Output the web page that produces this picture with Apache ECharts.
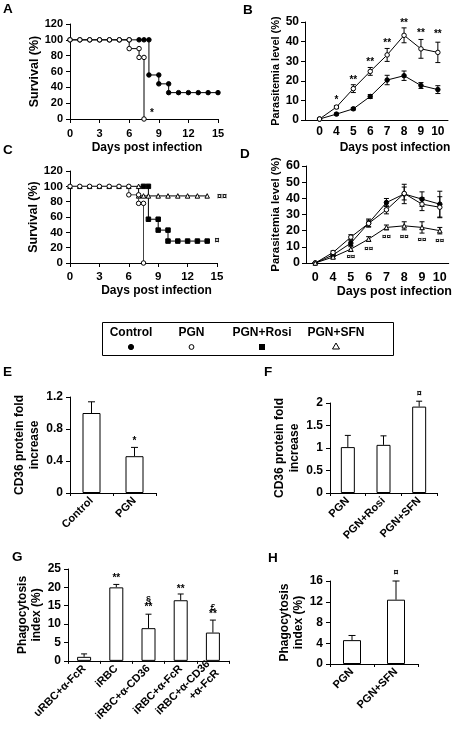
<!DOCTYPE html>
<html><head><meta charset="utf-8">
<script src="https://cdn.jsdelivr.net/npm/echarts@6/dist/echarts.min.js"></script>
<style>html,body{margin:0;padding:0;background:#fff}#c{width:454px;height:729px}</style>
</head><body><div id="c"></div>
<script>
// ===== Panel A : survival (%) vs day =====
const survA_control = [[0,100],[1,100],[2,100],[3,100],[4,100],[5,100],[6,100],[7,100],[7.5,100],[8,100],[8,55.6],[9,55.6],[9,44.4],[10,44.4],[10,33.3],[11,33.3],[12,33.3],[13,33.3],[14,33.3],[15,33.3]];
const survA_pgn = [[0,100],[1,100],[2,100],[3,100],[4,100],[5,100],[6,100],[6,88.9],[7,88.9],[7,77.8],[7.5,77.8],[7.5,0]];
const survA_sigX = [8.3];
const survA_sigY = [7];
const survA_sig = ['*'];

// ===== Panel B : parasitemia (%) =====
const dayLabels = ['0','4','5','6','7','8','9','10'];
const parB_pgn = [0.5,6.6,16,24.8,33.2,43.2,36.3,34.5];
const parB_pgnErr = [0.3,0.8,2,2,3.3,3.8,4.8,5.2];
const parB_ctrl = [0.5,3,5.7,12,20.4,22.6,17.6,15.5];
const parB_ctrlErr = [0.2,0.5,0.6,1,2.4,2.4,1.5,2];
const parB_sig = ['','*','**','**','**','**','**','**'];
const parB_sigY = [0,10.2,20.3,29.3,39,49.5,44.1,43.6];

// ===== Panel C : survival (%) =====
const survC_pgn = [[0,100],[1,100],[2,100],[3,100],[4,100],[5,100],[6,100],[6,88.9],[7,88.9],[7,77.8],[7.5,77.8],[7.5,0]];
const survC_rosi = [[7,100],[7.5,100],[8,100],[8,57.1],[9,57.1],[9,42.9],[10,42.9],[10,28.6],[11,28.6],[12,28.6],[13,28.6],[14,28.6]];
const survC_sfn = [[0,100],[1,100],[2,100],[3,100],[4,100],[5,100],[6,100],[7,100],[7,87.5],[7.5,87.5],[8,87.5],[9,87.5],[10,87.5],[11,87.5],[12,87.5],[13,87.5],[14,87.5]];
const survC_sigX = [15.5,15.0];
const survC_sigY = [86.6,29.4];
const survC_sig = ['¤¤','¤'];

// ===== Panel D : parasitemia (%) =====
const parD_ctrl = [0,5,12.3,24.7,37.4,42.7,39.5,36.4];
const parD_ctrlErr = [0.3,1,1.5,2.5,2.5,6,4.5,8];
const parD_pgn = [0,6.5,16,24.5,32.9,43,36.4,34.5];
const parD_pgnErr = [0.3,1,1.5,2,2.5,4,4,6.5];
const parD_sfn = [0,3.7,8.6,14.8,22,23,22,20];
const parD_sfnErr = [0.2,0.8,1.5,1.5,1.5,2.5,3.5,2];
const parD_sig = ['','','¤¤','¤¤','¤¤','¤¤','¤¤','¤¤'];
const parD_sigY = [0,0,3.7,8.8,16.4,16,14.4,13.8];

// ===== Legend =====
const legendNames = ['Control','PGN','PGN+Rosi','PGN+SFN'];

// ===== Panel E =====
const catE = ['Control','PGN'];
const valE = [1.0,0.46];
const errE = [0.14,0.11];
const sigE = ['','*'];
const sigEY = [0,0.65];

// ===== Panel F =====
const catF = ['PGN','PGN+Rosi','PGN+SFN'];
const valF = [1.02,1.07,1.92];
const errF = [0.26,0.2,0.12];
const sigF = ['','','¤'];
const sigFY = [0,0,2.22];

// ===== Panel G =====
const catG = ['uRBC+α-FcR','iRBC','iRBC+α-CD36','iRBC+α-FcR','iRBC+α-CD36\n+α-FcR'];
const valG = [1.1,20.0,8.9,16.5,7.7];
const errG = [0.8,0.8,3.8,1.7,3.4];
const sigG = ['','**','**','**','**'];
const sigGY = [0,22.5,14.5,19.6,12.7];
const sig2G = ['','','§','','£'];
const sig2GY = [0,0,16.6,0,14.5];

// ===== Panel H =====
const catH = ['PGN','PGN+SFN'];
const valH = [4.6,12.4];
const errH = [0.9,3.6];
const sigH = ['','¤'];
const sigHY = [0,17.6];

// ---------- builders ----------
const F = '"Liberation Sans", Arial, sans-serif';
const grids = [], xAxes = [], yAxes = [], series = [];
const axLine = {show:true, onZero:false, lineStyle:{color:'#000', width:1}};
const axTick = {show:true, length:4, lineStyle:{color:'#000', width:1}};
function lbl(fs, extra){ return Object.assign({color:'#000', fontFamily:F, fontWeight:'bold', fontSize:fs}, extra||{}); }
function nameStyle(fs, extra){ return Object.assign({color:'#000', fontFamily:F, fontWeight:'bold', fontSize:fs}, extra||{}); }

function addGrid(g, xa, ya){
  grids.push(Object.assign({containLabel:false}, g));
  const gi = grids.length-1;
  xAxes.push(Object.assign({gridIndex:gi, axisLine:axLine, splitLine:{show:false}}, xa));
  yAxes.push(Object.assign({gridIndex:gi, type:'value', axisLine:axLine, axisTick:axTick, splitLine:{show:false}}, ya));
  return gi;
}
function lineS(gi, data, sym, filled, extra){
  return Object.assign({type:'line', xAxisIndex:gi, yAxisIndex:gi, data:data, symbol:sym, symbolSize:4.5,
    showAllSymbol:true, animation:false, silent:true,
    lineStyle:{color:'#000', width:1},
    itemStyle:{color: filled?'#000':'#fff', borderColor:'#000', borderWidth:1}}, extra||{});
}
function errS(gi, xs, vals, errs, both, cap){
  return {type:'custom', xAxisIndex:gi, yAxisIndex:gi, clip:false, animation:false, silent:true, z:1,
    data: vals.map((v,i)=>[xs[i], v, errs[i]]),
    renderItem: function(params, api){
      const x=api.value(0), v=api.value(1), e=api.value(2);
      const t=api.coord([x, v+e]), b=api.coord([x, both? v-e : v]);
      const st={stroke:'#000', lineWidth:1};
      const ch=[{type:'line', shape:{x1:t[0],y1:t[1],x2:b[0],y2:b[1]}, style:st},
                {type:'line', shape:{x1:t[0]-cap,y1:t[1],x2:t[0]+cap,y2:t[1]}, style:st}];
      if(both) ch.push({type:'line', shape:{x1:b[0]-cap,y1:b[1],x2:b[0]+cap,y2:b[1]}, style:st});
      return {type:'group', children:ch};
    }};
}
function annS(gi, xs, ys, texts, fs){
  const idx = texts.map((t,i)=>i).filter(i=>texts[i]);
  return {type:'custom', xAxisIndex:gi, yAxisIndex:gi, clip:false, animation:false, silent:true, z:6,
    data: idx.map(i=>[xs[i], ys[i]]),
    renderItem: function(params, api){
      const p=api.coord([api.value(0), api.value(1)]);
      return {type:'text', x:p[0], y:p[1], style:{text:texts[idx[params.dataIndex]], align:'center', verticalAlign:'middle',
        textAlign:'center', textVerticalAlign:'middle', fontFamily:F, fontWeight:'bold', fontSize:fs, fill:'#000'}};
    }};
}
function barS(gi, vals, bw){
  return {type:'bar', xAxisIndex:gi, yAxisIndex:gi, data:vals, barWidth:bw, animation:false, silent:true, z:2,
    itemStyle:{color:'#fff', borderColor:'#000', borderWidth:1}};
}
const idx8 = dayLabels.map((d,i)=>i);

// ---- A ----
let g = addGrid({left:70, top:24, width:148, height:95},
  {type:'value', min:0, max:15, interval:3, axisTick:axTick, axisLabel:lbl(11,{margin:9}),
   name:'Days post infection', nameLocation:'middle', nameGap:23, nameTextStyle:nameStyle(12,{padding:[0,0,0,6]})},
  {min:0, max:120, interval:20, axisLabel:lbl(11,{margin:7}),
   name:'Survival (%)', nameLocation:'middle', nameGap:29, nameTextStyle:nameStyle(12.5)});
series.push(lineS(g, survA_control, 'circle', true, {z:3}));
series.push(lineS(g, survA_pgn, 'circle', false, {z:4}));
series.push(annS(g, survA_sigX, survA_sigY, survA_sig, 10));

// ---- B ----
g = addGrid({left:305, top:22, width:143, height:98},
  {type:'value', min:-0.86, max:7.6, axisTick:{show:false},
   axisLabel:lbl(12,{margin:6, customValues:idx8, formatter:v=>dayLabels[Math.round(v)]||''}),
   name:'Days post infection', nameLocation:'middle', nameGap:22, nameTextStyle:nameStyle(12,{padding:[0,0,0,37]})},
  {min:0, max:50, interval:10, axisLabel:lbl(12,{margin:6}),
   name:'Parasitemia level (%)', nameLocation:'middle', nameGap:22, nameTextStyle:nameStyle(11)});
series.push(errS(g, idx8, parB_pgn, parB_pgnErr, true, 2.5));
series.push(errS(g, idx8, parB_ctrl, parB_ctrlErr, true, 2.5));
series.push(lineS(g, parB_ctrl.map((v,i)=>[i,v]), 'circle', true, {z:3}));
series.push(lineS(g, parB_pgn.map((v,i)=>[i,v]), 'circle', false, {z:4}));
series.push(annS(g, idx8, parB_sigY, parB_sig, 10));

// ---- C ----
g = addGrid({left:70, top:171, width:147, height:92},
  {type:'value', min:0, max:15, interval:3, axisTick:axTick, axisLabel:lbl(11.5,{margin:8}),
   name:'Days post infection', nameLocation:'middle', nameGap:22, nameTextStyle:nameStyle(12,{padding:[0,0,0,26]})},
  {min:0, max:120, interval:20, axisLabel:lbl(11.5,{margin:7}),
   name:'Survival (%)', nameLocation:'middle', nameGap:28, nameTextStyle:nameStyle(12.5)});
series.push(lineS(g, survC_rosi.map((p,i)=> i===0 ? {value:p, symbol:'none'} : p), 'rect', true, {z:3}));
series.push(lineS(g, survC_sfn, 'triangle', false, {z:4}));
series.push(lineS(g, survC_pgn, 'circle', false, {z:5, lineStyle:{color:'#444', width:1}}));
series.push(annS(g, survC_sigX, survC_sigY, survC_sig, 9));

// ---- D ----
g = addGrid({left:306, top:166, width:143, height:97},
  {type:'value', min:-0.52, max:7.5, axisTick:{show:false},
   axisLabel:lbl(12.5,{margin:8, customValues:idx8, formatter:v=>dayLabels[Math.round(v)]||''}),
   name:'Days post infection', nameLocation:'middle', nameGap:22, nameTextStyle:nameStyle(12.5,{padding:[0,0,0,34]})},
  {min:0, max:60, interval:10, axisLabel:lbl(12.5,{margin:6}),
   name:'Parasitemia level (%)', nameLocation:'middle', nameGap:22, nameTextStyle:nameStyle(11.5)});
series.push(errS(g, idx8, parD_ctrl, parD_ctrlErr, true, 2.5));
series.push(errS(g, idx8, parD_pgn, parD_pgnErr, true, 2.5));
series.push(errS(g, idx8, parD_sfn, parD_sfnErr, true, 2.5));
series.push(lineS(g, parD_ctrl.map((v,i)=>[i,v]), 'circle', true, {z:3}));
series.push(lineS(g, parD_pgn.map((v,i)=>[i,v]), 'circle', false, {z:4}));
series.push(lineS(g, parD_sfn.map((v,i)=>[i,v]), 'triangle', false, {z:5}));
series.push(annS(g, idx8, parD_sigY, parD_sig, 8));

// ---- E ----
g = addGrid({left:70, top:397, width:86, height:96},
  {type:'category', data:catE, axisTick:{show:true, length:3, lineStyle:{color:'#000'}}, axisLabel:lbl(11,{rotate:45, margin:6, interval:0})},
  {min:0, max:1.2, interval:0.4, axisLabel:lbl(12,{margin:7}),
   name:'CD36 protein fold\nincrease', nameLocation:'middle', nameGap:27, nameTextStyle:nameStyle(12,{lineHeight:15})});
series.push(barS(g, valE, 18));
series.push(errS(g, catE.map((c,i)=>i), valE, errE, false, 3.5));
series.push(annS(g, catE.map((c,i)=>i), sigEY, sigE, 10));

// ---- F ----
g = addGrid({left:330, top:403, width:107, height:90},
  {type:'category', data:catF, axisTick:{show:true, length:3, lineStyle:{color:'#000'}}, axisLabel:lbl(11,{rotate:45, margin:6, interval:0})},
  {min:0, max:2, interval:0.5, axisLabel:lbl(12,{margin:7}),
   name:'CD36 protein fold\nincrease', nameLocation:'middle', nameGap:22, nameTextStyle:nameStyle(12,{lineHeight:15})});
series.push(barS(g, valF, 14));
series.push(errS(g, catF.map((c,i)=>i), valF, errF, false, 3));
series.push(annS(g, catF.map((c,i)=>i), sigFY, sigF, 9));

// ---- G ----
g = addGrid({left:68, top:569, width:161, height:97},
  {type:'category', data:catG, axisTick:{show:true, length:3, lineStyle:{color:'#000'}}, axisLabel:lbl(11,{rotate:45, margin:6, interval:0, lineHeight:13})},
  {min:0, max:25, interval:5, axisLabel:lbl(12,{margin:7}),
   name:'Phagocytosis\nindex (%)', nameLocation:'middle', nameGap:24, nameTextStyle:nameStyle(12,{lineHeight:14})});
series.push(barS(g, valG, 14));
series.push(errS(g, catG.map((c,i)=>i), valG, errG, false, 3));
series.push(annS(g, catG.map((c,i)=>i), sigGY, sigG, 10));
series.push(annS(g, catG.map((c,i)=>i), sig2GY, sig2G, 9));

// ---- H ----
g = addGrid({left:330, top:581, width:88, height:83},
  {type:'category', data:catH, axisTick:{show:true, length:3, lineStyle:{color:'#000'}}, axisLabel:lbl(11,{rotate:45, margin:6, interval:0})},
  {min:0, max:16, interval:4, axisLabel:lbl(12,{margin:7}),
   name:'Phagocytosis\nindex (%)', nameLocation:'middle', nameGap:22, nameTextStyle:nameStyle(12,{lineHeight:14})});
series.push(barS(g, valH, 18));
series.push(errS(g, catH.map((c,i)=>i), valH, errH, false, 3.5));
series.push(annS(g, catH.map((c,i)=>i), sigHY, sigH, 9));

// ---------- graphics: panel letters + legend box ----------
function T(text, x, y, fs, align){
  return {type:'text', x:x, y:y, silent:true, style:{text:text, fontFamily:F, fontWeight:'bold', fontSize:fs, fill:'#000',
    align:align||'left', verticalAlign:'top', textAlign:align||'left', textVerticalAlign:'top'}};
}
const letters = [['A',3,2],['B',243,3],['C',3,143],['D',240,147],['E',3,365],['F',264,365],['G',12,550],['H',268,551]];
const graphic = letters.map(l=>T(l[0], l[1], l[2], 13.5));
graphic.push({type:'rect', silent:true, shape:{x:102.5, y:322.5, width:291, height:33}, style:{fill:'none', stroke:'#000', lineWidth:1}});
const legX = [131, 191.5, 262, 336];
legendNames.forEach((n,i)=>{
  const t = T(n, legX[i], 327, 12, 'center'); graphic.push(t);
});
graphic.push({type:'circle', silent:true, shape:{cx:131, cy:347, r:2.6}, style:{fill:'#000', stroke:'#000', lineWidth:1}});
graphic.push({type:'circle', silent:true, shape:{cx:191.5, cy:347, r:2.4}, style:{fill:'#fff', stroke:'#000', lineWidth:1}});
graphic.push({type:'rect', silent:true, shape:{x:259, y:344, width:6, height:6}, style:{fill:'#000'}});
graphic.push({type:'polygon', silent:true, shape:{points:[[336,343],[339.5,349],[332.5,349]]}, style:{fill:'#fff', stroke:'#000', lineWidth:1}});

const chart = echarts.init(document.getElementById('c'), null, {renderer:'canvas'});
chart.setOption({
  animation:false,
  textStyle:{fontFamily:F},
  grid:grids, xAxis:xAxes, yAxis:yAxes, series:series, graphic:graphic
});
</script></body></html>
